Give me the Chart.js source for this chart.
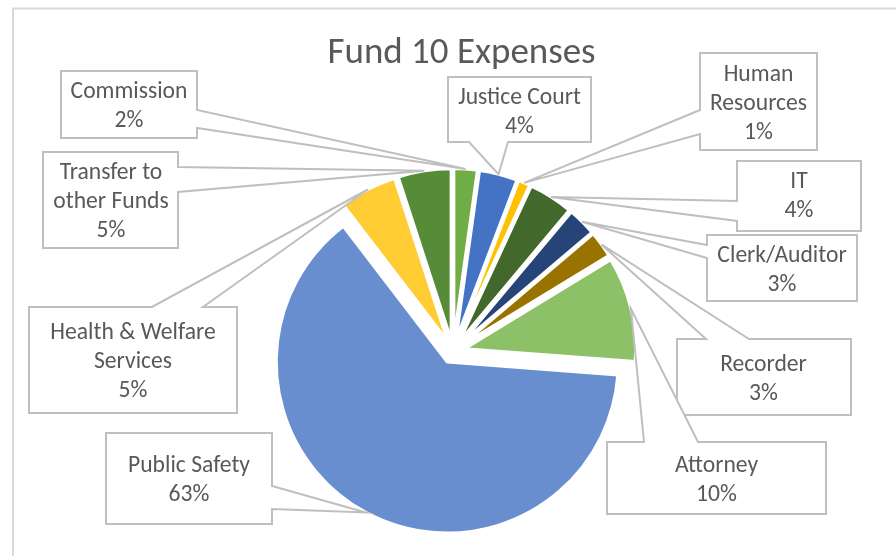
<!DOCTYPE html>
<html>
<head>
<meta charset="utf-8">
<script src="https://cdn.jsdelivr.net/npm/chart.js@4/dist/chart.umd.min.js"></script>
<style>
  html, body { margin: 0; padding: 0; background: #ffffff; }
  #wrap { width: 896px; height: 556px; position: relative; }
  canvas { display: block; }
</style>
</head>
<body>
<div id="wrap"><canvas id="c" width="896" height="556"></canvas></div>
<script>
// ---- data ----
const chartTitle = 'Fund 10 Expenses';
const categories = [
  'Commission',
  'Justice Court',
  ['Human', 'Resources'],
  'IT',
  'Clerk/Auditor',
  'Recorder',
  'Attorney',
  'Public Safety',
  ['Health & Welfare', 'Services'],
  ['Transfer to', 'other Funds']
];
const shares = [2.2, 3.6, 1.1, 4.2, 2.7, 2.5, 9.9, 63.4, 5.4, 5.0];
const sliceColors = ['#70AD47', '#4472C4', '#FFC000', '#43682B', '#264478',
                     '#997300', '#8CC168', '#698ED0', '#FFCD33', '#568B38'];

// ---- layout of callout boxes (x1, y1, x2, y2, wedge side, wedge a, wedge b, text centre x, first baseline) ----
const calloutLayout = [
  { box: [61, 71, 197, 138],  side: 'right',  w: [110, 128], cx: 129,   by: 98 },
  { box: [448, 77, 591, 142], side: 'bottom', w: [469, 508], cx: 519.5, by: 104 },
  { box: [700, 53, 817, 150], side: 'left',   w: [110, 134], cx: 758.5, by: 81 },
  { box: [737, 161, 861, 231], side: 'left',  w: [201, 221], cx: 799,   by: 188 },
  { box: [707, 235, 857, 301], side: 'left',  w: [245, 258], cx: 782,   by: 262 },
  { box: [677, 339, 851, 415], side: 'top',   w: [706, 749], cx: 763.5, by: 371 },
  { box: [607, 442, 826, 514], side: 'top',   w: [644, 698], cx: 716.5, by: 472 },
  { box: [106, 433, 272, 524], side: 'right', w: [486, 509], cx: 189,   by: 472 },
  { box: [29, 307, 237, 413], side: 'top',    w: [152, 203], cx: 133,   by: 339 },
  { box: [43, 152, 178, 248], side: 'right',  w: [167, 192], cx: 111,   by: 179 }
];
const EXPLODE = 12;
const LINE_H = 29;
const FONT_FAMILY = 'Carlito, Lato, "Open Sans", sans-serif';
const TEXT_COLOR = '#595959';
const BOX_COLOR = '#BFBFBF';

const canvas = document.getElementById('c');
const ctx0 = canvas.getContext('2d');

function fitSize(text, target) {
  ctx0.font = '100px ' + FONT_FAMILY;
  return 100 * target / ctx0.measureText(text).width;
}

const explodePlugin = {
  id: 'explode',
  beforeDatasetDraw(chart, args) {
    const ctx = chart.ctx;
    args.meta.data.forEach(el => {
      const mid = (el.startAngle + el.endAngle) / 2;
      ctx.save();
      ctx.translate(Math.cos(mid) * EXPLODE, Math.sin(mid) * EXPLODE);
      el.draw(ctx);
      ctx.restore();
    });
    return false;
  }
};

const calloutPlugin = {
  id: 'callouts',
  afterDraw(chart) {
    const ctx = chart.ctx;
    // chart frame
    ctx.save();
    ctx.strokeStyle = '#D9D9D9';
    ctx.lineWidth = 2;
    ctx.strokeRect(13, 8.5, 1000, 1000);
    ctx.restore();

    // title
    const tSize = fitSize(chartTitle, 268);
    ctx.save();
    ctx.font = tSize + 'px ' + FONT_FAMILY;
    ctx.fillStyle = TEXT_COLOR;
    ctx.textAlign = 'center';
    ctx.textBaseline = 'alphabetic';
    ctx.fillText(chartTitle, 461.5, 63);
    ctx.restore();

    const meta = chart.getDatasetMeta(0);
    const data = chart.data.datasets[0].data;
    const total = data.reduce((a, b) => a + b, 0);
    const lSize = fitSize('Commission', 117);

    meta.data.forEach((el, i) => {
      const L = calloutLayout[i];
      const mid = (el.startAngle + el.endAngle) / 2;
      const R = el.outerRadius + EXPLODE;
      const tx = el.x + Math.cos(mid) * R;
      const ty = el.y + Math.sin(mid) * R;
      const [x1, y1, x2, y2] = L.box;
      const [a, b] = L.w;
      const pts = [[x1, y1]];
      if (L.side === 'top') pts.push([a, y1], [tx, ty], [b, y1]);
      pts.push([x2, y1]);
      if (L.side === 'right') pts.push([x2, a], [tx, ty], [x2, b]);
      pts.push([x2, y2]);
      if (L.side === 'bottom') pts.push([b, y2], [tx, ty], [a, y2]);
      pts.push([x1, y2]);
      if (L.side === 'left') pts.push([x1, b], [tx, ty], [x1, a]);

      ctx.save();
      ctx.beginPath();
      pts.forEach((p, k) => k ? ctx.lineTo(p[0], p[1]) : ctx.moveTo(p[0], p[1]));
      ctx.closePath();
      ctx.fillStyle = '#ffffff';
      ctx.fill();
      ctx.strokeStyle = BOX_COLOR;
      ctx.lineWidth = 2;
      ctx.lineJoin = 'miter';
      ctx.stroke();

      const name = chart.data.labels[i];
      const lines = (Array.isArray(name) ? name.slice() : [name]);
      lines.push(Math.round(data[i] / total * 100) + '%');
      ctx.font = lSize + 'px ' + FONT_FAMILY;
      ctx.fillStyle = TEXT_COLOR;
      ctx.textAlign = 'center';
      ctx.textBaseline = 'alphabetic';
      lines.forEach((t, k) => ctx.fillText(t, L.cx, L.by + k * LINE_H));
      ctx.restore();
    });
  }
};

new Chart(canvas, {
  type: 'pie',
  data: {
    labels: categories,
    datasets: [{
      data: shares,
      backgroundColor: sliceColors,
      borderColor: '#ffffff',
      borderWidth: 3,
      radius: 171,
      clip: false
    }]
  },
  options: {
    responsive: false,
    animation: false,
    events: [],
    rotation: 0,
    layout: { padding: { left: 10, right: 0, top: 147, bottom: 0 } },
    plugins: {
      legend: { display: false },
      title: { display: false },
      tooltip: { enabled: false }
    }
  },
  plugins: [explodePlugin, calloutPlugin]
});
</script>
</body>
</html>
